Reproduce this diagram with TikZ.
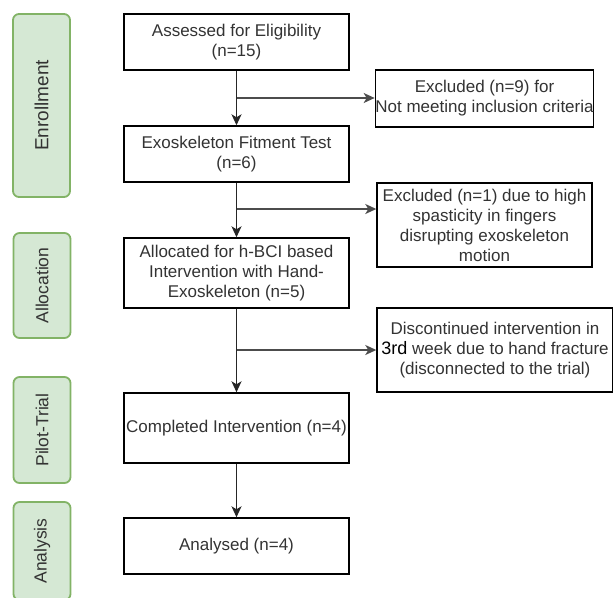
\documentclass[tikz,border=0pt]{standalone}
\usepackage{fontspec}
\setmainfont{Liberation Sans}
\usetikzlibrary{arrows.meta}
\definecolor{txt}{HTML}{333333}
\definecolor{phfill}{HTML}{D5E8D4}
\definecolor{phdraw}{HTML}{82B366}
\begin{document}
\begin{tikzpicture}[x=1pt,y=-1pt,
  box/.style={draw=black,line width=1.4pt,fill=white,rectangle,inner sep=0pt,
    align=center,text=txt,font=\fontsize{17}{20}\selectfont},
  phase/.style={draw=phdraw,fill=phfill,line width=1.8pt,rounded corners=6pt,
    inner sep=0pt,minimum width=57pt},
  plabel/.style={text=txt,rotate=90,inner sep=0pt,font=\fontsize{17.5}{20}\selectfont},
  flow/.style={line width=1.5pt,draw=black!85,-{Stealth[length=11pt,width=10pt,inset=3pt]}},
  branch/.style={line width=1.5pt,draw=black!70,-{Stealth[length=11pt,width=10pt,inset=3pt]}}]
\useasboundingbox (0,0) rectangle (613,597);
% phase labels
\node[phase,minimum height=183pt] (pe) at (41.5,105.5) {};
\node[plabel,font=\fontsize{19}{20}\selectfont] (le) at (pe.center) {Enrollment};
\node[phase,minimum height=105pt] (pa) at (42,285.5) {};
\node[plabel] (la) at (pa.center) {Allocation};
\node[phase,minimum height=106pt] (pp) at (42,430) {};
\node[plabel] (lp) at (pp.center) {Pilot-Trial};
\node[phase,minimum height=98pt] (pn) at (42,551) {};
\node[plabel] (ln) at (pn.center) {Analysis};
% main boxes
\node[box,minimum width=225pt,minimum height=56pt] (b1) at (236.5,42) {Assessed for Eligibility\\(n=15)};
\node[box,minimum width=225pt,minimum height=56pt] (b2) at (236.5,154) {Exoskeleton Fitment Test\\(n=6)};
\node[box,minimum width=225pt,minimum height=70pt] (b3) at (236.5,273) {Allocated for h-BCI based\\Intervention with Hand-\\Exoskeleton (n=5)};
\node[box,minimum width=225pt,minimum height=70pt] (b4) at (236.5,428) {Completed Intervention (n=4)};
\node[box,minimum width=225pt,minimum height=56pt] (b5) at (236.5,546) {Analysed (n=4)};
% side boxes
\node[box,minimum width=215pt,minimum height=57pt] (r1) at (484.5,98.5) {Excluded (n=9) for\\Not meeting inclusion criteria};
\node[box,minimum width=215pt,minimum height=84pt] (r2) at (484.5,225) {Excluded (n=1) due to high\\spasticity in fingers\\disrupting exoskeleton\\motion};
\node[box,minimum width=236pt,minimum height=84pt] (r3) at (495,350) {Discontinued intervention in\\{\color{black}\fontsize{18}{20}\selectfont 3rd} week due to hand fracture\\(disconnected to the trial)};
% branch points
\coordinate (j1) at (236.5,98);
\coordinate (j2) at (236.5,209);
\coordinate (j3) at (236.5,350);
% connectors
\draw[flow] (b1) -- (b2);
\draw[flow] (b2) -- (b3);
\draw[flow] (b3) -- (b4);
\draw[flow] (b4) -- (b5);
\draw[branch] (j1) -- (j1 -| r1.west);
\draw[branch] (j2) -- (j2 -| r2.west);
\draw[branch] (j3) -- (j3 -| r3.west);
\end{tikzpicture}
\end{document}
